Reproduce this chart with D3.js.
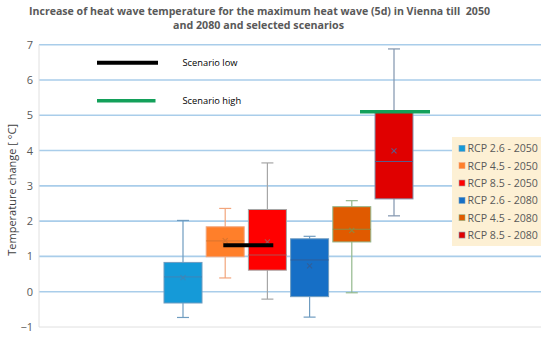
<!DOCTYPE html>
<html>
<head>
<meta charset="utf-8">
<script src="https://cdn.jsdelivr.net/npm/d3@7"></script>
<style>
  body { margin: 0; background: #fff; }
  svg { display: block; font-family: "Open Sans", "DejaVu Sans", sans-serif; }
</style>
</head>
<body>
<div id="chart"></div>
<script>
// categories and box statistics
var categories = ["RCP 2.6 - 2050", "RCP 4.5 - 2050", "RCP 8.5 - 2050", "RCP 2.6 - 2080", "RCP 4.5 - 2080", "RCP 8.5 - 2080"];
var minValues    = [-0.73, 0.39, -0.21, -0.72, -0.03, 2.15];
var q1Values     = [-0.32, 0.99, 0.61, -0.14, 1.41, 2.63];
var medianValues = [0.42, 1.44, 1.04, 0.90, 1.77, 3.69];
var q3Values     = [0.83, 1.84, 2.33, 1.50, 2.41, 5.08];
var maxValues    = [2.02, 2.36, 3.65, 1.57, 2.58, 6.88];
var meanValues   = [0.40, 1.45, 1.41, 0.73, 1.74, 3.99];
var yTicks = [-1, 0, 1, 2, 3, 4, 5, 6, 7];
var scenarioLow = 1.32;
var scenarioHigh = 5.1;

var fills    = ["#159ad8", "#ff7f2a", "#ff0000", "#166fc6", "#e05a00", "#e00000"];
var whiskers = ["#6f9cc0", "#f2a57c", "#a6a6a6", "#6f9cc0", "#93b88d", "#8094ad"];
var medians  = ["#3f86b8", "#d9742e", "#b05050", "#2f5f9a", "#8f8a40", "#5a5a8a"];

function init() {
    var w = 550;
    var h = 355;
    var left = 39, right = 541, top = 44.7, bottom = 327;

    var svg = d3.select("#chart")
        .append("svg")
        .attr("width", w)
        .attr("height", h);

    svg.append("rect")
        .attr("width", w).attr("height", h)
        .attr("fill", "#fff");

    // title
    var title = svg.append("text")
        .attr("text-anchor", "middle")
        .attr("fill", "#595959")
        .style("font-weight", "bold")
        .style("font-size", "10.8px")
        .style("white-space", "pre");
    title.append("tspan").attr("x", 259.5).attr("y", 14.5)
        .attr("textLength", 461).attr("lengthAdjust", "spacingAndGlyphs")
        .text("Increase of heat wave temperature for the maximum heat wave (5d) in Vienna till  2050");
    title.append("tspan").attr("x", 258.5).attr("y", 28.5)
        .attr("textLength", 171).attr("lengthAdjust", "spacingAndGlyphs")
        .text("and 2080 and selected scenarios");

    var yScale = d3.scaleLinear().domain([-1, 7]).range([bottom, top]);
    var xScale = d3.scalePoint().domain(categories).range([183, 394]);
    var boxW = 38;

    // gridlines
    svg.selectAll(".grid")
        .data(yTicks.filter(function (d) { return d > -1; }))
        .enter()
        .append("line")
        .attr("x1", left).attr("x2", right)
        .attr("y1", function (d) { return yScale(d); })
        .attr("y2", function (d) { return yScale(d); })
        .attr("stroke", "#a9cdea")
        .attr("stroke-width", 1.6);

    // axis frame
    svg.append("line")
        .attr("x1", left).attr("x2", right)
        .attr("y1", bottom).attr("y2", bottom)
        .attr("stroke", "#e0e0e0").attr("stroke-width", 1);
    svg.append("line")
        .attr("x1", left).attr("x2", left)
        .attr("y1", top).attr("y2", bottom)
        .attr("stroke", "#e0e0e0").attr("stroke-width", 1);

    // y axis labels
    var yAxis = d3.axisLeft(yScale).tickValues(yTicks).tickSize(0).tickPadding(6);
    var yg = svg.append("g")
        .attr("transform", "translate(" + left + ",0)")
        .call(yAxis);
    yg.select(".domain").remove();
    yg.selectAll("text")
        .attr("fill", "#595959")
        .style("font-size", "11px")
        .style("font-family", "\"Open Sans\", sans-serif");

    svg.append("text")
        .attr("transform", "translate(16," + ((top + bottom) / 2 + 4) + ") rotate(-90)")
        .attr("text-anchor", "middle")
        .attr("fill", "#404040")
        .style("font-size", "11px")
        .text("Temperature change [ °C]");

    // boxes
    categories.forEach(function (c, i) {
        var cx = xScale(c);
        var g = svg.append("g");
        // whisker
        g.append("line")
            .attr("x1", cx).attr("x2", cx)
            .attr("y1", yScale(maxValues[i])).attr("y2", yScale(minValues[i]))
            .attr("stroke", whiskers[i]).attr("stroke-width", 1.2);
        [maxValues[i], minValues[i]].forEach(function (v) {
            g.append("line")
                .attr("x1", cx - 6).attr("x2", cx + 6)
                .attr("y1", yScale(v)).attr("y2", yScale(v))
                .attr("stroke", whiskers[i]).attr("stroke-width", 1.2);
        });
        g.append("rect")
            .attr("x", cx - boxW / 2)
            .attr("y", yScale(q3Values[i]))
            .attr("width", boxW)
            .attr("height", yScale(q1Values[i]) - yScale(q3Values[i]))
            .attr("fill", fills[i])
            .attr("stroke", whiskers[i])
            .attr("stroke-width", 1);
        g.append("line")
            .attr("x1", cx - boxW / 2).attr("x2", cx + boxW / 2)
            .attr("y1", yScale(medianValues[i])).attr("y2", yScale(medianValues[i]))
            .attr("stroke", medians[i]).attr("stroke-width", 1);
        var my = yScale(meanValues[i]);
        g.append("path")
            .attr("d", "M" + (cx - 2.5) + "," + (my - 2.5) + "L" + (cx + 2.5) + "," + (my + 2.5) +
                "M" + (cx + 2.5) + "," + (my - 2.5) + "L" + (cx - 2.5) + "," + (my + 2.5))
            .attr("stroke", medians[i]).attr("stroke-width", 1.1);
    });

    // scenario lines
    var lowCenter = (xScale(categories[1]) + xScale(categories[2])) / 2 + 2;
    svg.append("line")
        .attr("x1", lowCenter - 25).attr("x2", lowCenter + 25)
        .attr("y1", yScale(scenarioLow)).attr("y2", yScale(scenarioLow))
        .attr("stroke", "#000").attr("stroke-width", 4);
    var highCenter = xScale(categories[5]) + 1;
    svg.append("line")
        .attr("x1", highCenter - 35).attr("x2", highCenter + 35)
        .attr("y1", yScale(scenarioHigh)).attr("y2", yScale(scenarioHigh))
        .attr("stroke", "#13a05a").attr("stroke-width", 3.5);

    // scenario legend
    var scen = [
        { label: "Scenario low", color: "#000", y: 62.7, x2: 158, sw: 4 },
        { label: "Scenario high", color: "#13a05a", y: 100.7, x2: 155.5, sw: 3.5 }
    ];
    scen.forEach(function (d) {
        svg.append("line")
            .attr("x1", 97).attr("x2", d.x2)
            .attr("y1", d.y).attr("y2", d.y)
            .attr("stroke", d.color).attr("stroke-width", d.sw);
        svg.append("text")
            .attr("x", 182.5).attr("y", d.y + 3.5)
            .attr("fill", "#000")
            .style("font-size", "9.3px")
            .text(d.label);
    });

    // category legend
    var legend = svg.append("g").attr("transform", "translate(452,137)");
    legend.append("rect")
        .attr("width", 89).attr("height", 109)
        .attr("fill", "#fdf0d4");
    var item = legend.selectAll(".item")
        .data(categories)
        .enter()
        .append("g")
        .attr("transform", function (d, i) { return "translate(0," + (11.3 + i * 17.35) + ")"; });
    item.append("rect")
        .attr("x", 7).attr("y", -3).attr("width", 6).attr("height", 6)
        .attr("fill", function (d, i) { return fills[i]; })
        .attr("stroke", function (d, i) { return whiskers[i]; })
        .attr("stroke-width", 0.6);
    item.append("text")
        .attr("x", 15.5).attr("y", 4)
        .attr("fill", "#595959")
        .style("font-size", "10.6px")
        .text(function (d) { return d; });
}

window.onload = init;
</script>
</body>
</html>
